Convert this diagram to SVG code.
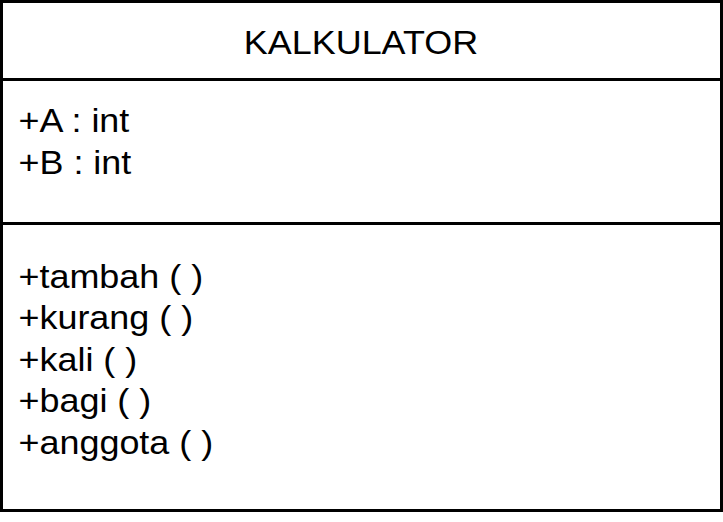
<svg xmlns="http://www.w3.org/2000/svg" width="723" height="522" viewBox="0 0 723 522">
<style>
.t{font-family:"Liberation Sans",Arial,sans-serif;font-size:34px;fill:#000}
.ln{stroke:#000;stroke-width:3;fill:none}
</style>
<rect width="723" height="522" fill="#fff"/>
<g id="class-kalkulator">
<rect class="ln" x="1.5" y="1.5" width="720" height="509" fill="#fff"/>
<line class="ln" x1="0" y1="79.5" x2="723" y2="79.5"/>
<line class="ln" x1="0" y1="223.5" x2="723" y2="223.5"/>
<g transform="scale(1.057,1)">
<text class="t" x="341.5" y="54" text-anchor="middle">KALKULATOR</text>
<text class="t" x="17.5" y="132.5">+A : int</text>
<text class="t" x="17.5" y="174">+B : int</text>
<text class="t" x="17.5" y="288">+tambah ( )</text>
<text class="t" x="17.5" y="329.5">+kurang ( )</text>
<text class="t" x="17.5" y="371">+kali ( )</text>
<text class="t" x="17.5" y="412.5">+bagi ( )</text>
<text class="t" x="17.5" y="454">+anggota ( )</text>
</g>
</g>
</svg>
